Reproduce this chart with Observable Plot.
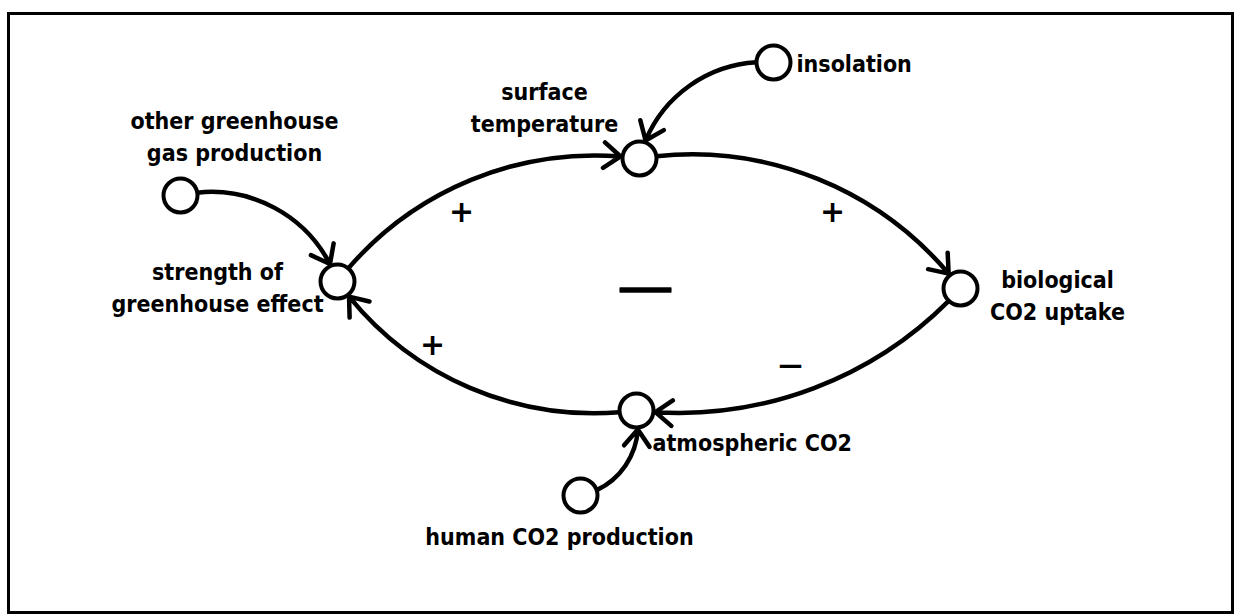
<!DOCTYPE html>
<html><head><meta charset="utf-8">
<script src="https://cdn.jsdelivr.net/npm/d3@7"></script>
<script src="https://cdn.jsdelivr.net/npm/@observablehq/plot@0.6"></script>
<style>
body{margin:0;background:#fff}
#chart svg text.lbl{letter-spacing:1.6px}
</style>
</head><body><div id="chart"></div>
<script>
// Nodes (variables of the causal loop diagram)
const nodeIds = ["insolation","surface","other","strength","bio","atm","human"];
const nodeX = [773, 639, 180, 337, 960, 636, 580];
const nodeY = [62, 158, 195, 281, 288, 410, 495];

// Labels
const labelText = ["insolation","surface\ntemperature","other greenhouse\ngas production","strength of\ngreenhouse effect","biological\nCO2 uptake","atmospheric CO2","human CO2 production"];
const labelX = [796, 544, 234, 217, 1057, 652, 559];
const labelY = [61, 105, 134, 285, 293, 440, 534];
const labelAnchor = ["start","middle","middle","middle","middle","start","middle"];

// Causal links
const linkFrom = ["surface","bio","atm","strength","insolation","other","human"];
const linkTo   = ["bio","atm","strength","surface","surface","strength","atm"];
const linkBend = [31, 27, 31, 30, -40, 42, -45];

// Polarity signs
const plusX = [461, 832, 432];
const plusY = [212, 212, 345];
const minusX = [790];
const minusY = [365];
const loopSignX = [645];
const loopSignY = [287];

const pos = new Map(nodeIds.map((id, i) => [id, [nodeX[i], nodeY[i]]]));
const nodes = nodeIds.map((id, i) => ({id, x: nodeX[i], y: nodeY[i]}));
const labels = labelText.map((t, i) => ({t, x: labelX[i], y: labelY[i], a: labelAnchor[i]}));
const links = linkFrom.map((f, i) => ({
  x1: pos.get(f)[0], y1: pos.get(f)[1],
  x2: pos.get(linkTo[i])[0], y2: pos.get(linkTo[i])[1],
  bend: linkBend[i]
}));
const pluses = plusX.map((x, i) => ({x, y: plusY[i], t: "+"}));
const minuses = minusX.map((x, i) => ({x, y: minusY[i], t: "—"}));
const loopSigns = loopSignX.map((x, i) => ({x, y: loopSignY[i], t: "—"}));

const font = "'DejaVu Sans Condensed', 'DejaVu Sans', sans-serif";

const chart = Plot.plot({
  width: 1238, height: 616, margin: 0,
  x: {domain: [0, 1238], range: [0, 1238], axis: null},
  y: {domain: [0, 616], range: [0, 616], axis: null},
  style: {background: "white", color: "black"},
  marks: [
    Plot.frame({insetLeft: 8, insetTop: 13, insetRight: 6, insetBottom: 4, stroke: "black", strokeWidth: 3}),
    ...links.map(l => Plot.arrow([l], {
      x1: "x1", y1: "y1", x2: "x2", y2: "y2",
      bend: l.bend, stroke: "black", strokeWidth: 4.5,
      headAngle: 75, headLength: 7, insetStart: 17, insetEnd: 19,
      strokeLinecap: "round", strokeLinejoin: "round"
    })),
    Plot.dot(nodes, {x: "x", y: "y", r: 17, fill: "white", stroke: "black", strokeWidth: 4}),
    ...["start", "middle"].map(a => Plot.text(labels.filter(d => d.a === a), {
      x: "x", y: "y", text: "t", textAnchor: a, lineAnchor: "middle", lineHeight: 1.42,
      fontFamily: font, fontWeight: "bold", fontSize: 23, fill: "black", className: "lbl"
    })),
    Plot.text(pluses, {x: "x", y: "y", text: "t", fontFamily: "'DejaVu Sans', sans-serif", fontWeight: "bold", fontSize: 30, fill: "black"}),
    Plot.text(minuses, {x: "x", y: "y", text: "t", fontFamily: "'DejaVu Sans', sans-serif", fontWeight: "bold", fontSize: 24, fill: "black"}),
    Plot.text(loopSigns, {x: "x", y: "y", text: "t", fontFamily: "'DejaVu Sans', sans-serif", fontWeight: "normal", fontSize: 56, fill: "black", stroke: "black", strokeWidth: 1.6})
  ]
});
document.getElementById("chart").appendChild(chart);
</script>
</body></html>
